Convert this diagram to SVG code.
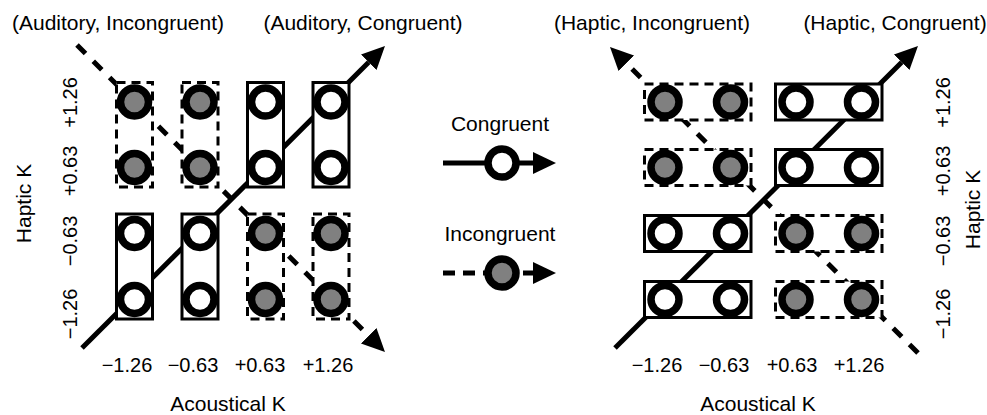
<svg xmlns="http://www.w3.org/2000/svg" width="987" height="415" viewBox="0 0 987 415">
<style>
text{font-family:"Liberation Sans",Arial,sans-serif;fill:#000}
.lbl{font-size:21px}
.tick{font-size:20px}
.ln{fill:none;stroke:#000;stroke-width:5}
.dash{stroke-dasharray:12 11}
.rs{fill:#fff;stroke:#000;stroke-width:3}
.rd{fill:#fff;stroke:#000;stroke-width:3;stroke-dasharray:9 6}
.cw{fill:#fff;stroke:#000;stroke-width:7.5}
.cg{fill:#808080;stroke:#000;stroke-width:7.5}
</style>
<defs>
<marker id="ah" markerUnits="userSpaceOnUse" markerWidth="24" markerHeight="24" refX="0" refY="11" orient="auto" viewBox="0 0 24 22">
<path d="M0,0 L23,11 L0,22 Z" fill="#000"/>
</marker>
</defs>
<rect width="987" height="415" fill="#fff"/>

<g id="connectors">
<line class="ln" x1="82" y1="348" x2="368.7" y2="62.3" marker-end="url(#ah)"/>
<line class="ln dash" x1="77" y1="45" x2="368.7" y2="335.8" marker-end="url(#ah)"/>
<line class="ln" x1="615" y1="348" x2="901.7" y2="62.2" marker-end="url(#ah)"/>
<line class="ln dash" x1="918" y1="353" x2="626.3" y2="63.2" marker-end="url(#ah)"/>
</g>

<g id="left-panel">
<g id="L-top-1"><rect class="rd" x="116.5" y="82.5" width="36" height="104.5"/><circle class="cg" cx="134.5" cy="102" r="14"/><circle class="cg" cx="134.5" cy="167.5" r="14"/></g>
<g id="L-top-2"><rect class="rd" x="182" y="82.5" width="36" height="104.5"/><circle class="cg" cx="200" cy="102" r="14"/><circle class="cg" cx="200" cy="167.5" r="14"/></g>
<g id="L-top-3"><rect class="rs" x="247.5" y="82.5" width="36" height="104.5"/><circle class="cw" cx="265.5" cy="102" r="14"/><circle class="cw" cx="265.5" cy="167.5" r="14"/></g>
<g id="L-top-4"><rect class="rs" x="313" y="82.5" width="36" height="104.5"/><circle class="cw" cx="331" cy="102" r="14"/><circle class="cw" cx="331" cy="167.5" r="14"/></g>
<g id="L-bot-1"><rect class="rs" x="116.5" y="214" width="36" height="105"/><circle class="cw" cx="134.5" cy="233.5" r="14"/><circle class="cw" cx="134.5" cy="299.5" r="14"/></g>
<g id="L-bot-2"><rect class="rs" x="182" y="214" width="36" height="105"/><circle class="cw" cx="200" cy="233.5" r="14"/><circle class="cw" cx="200" cy="299.5" r="14"/></g>
<g id="L-bot-3"><rect class="rd" x="247.5" y="214" width="36" height="105"/><circle class="cg" cx="265.5" cy="233.5" r="14"/><circle class="cg" cx="265.5" cy="299.5" r="14"/></g>
<g id="L-bot-4"><rect class="rd" x="313" y="214" width="36" height="105"/><circle class="cg" cx="331" cy="233.5" r="14"/><circle class="cg" cx="331" cy="299.5" r="14"/></g>
</g>

<g id="right-panel">
<g id="R-row-1a"><rect class="rd" x="644.5" y="84" width="106.5" height="36"/><circle class="cg" cx="665" cy="102" r="14"/><circle class="cg" cx="730.5" cy="102" r="14"/></g>
<g id="R-row-1b"><rect class="rs" x="775.5" y="84" width="106.5" height="36"/><circle class="cw" cx="796" cy="102" r="14"/><circle class="cw" cx="861.5" cy="102" r="14"/></g>
<g id="R-row-2a"><rect class="rd" x="644.5" y="149.5" width="106.5" height="36"/><circle class="cg" cx="665" cy="167.5" r="14"/><circle class="cg" cx="730.5" cy="167.5" r="14"/></g>
<g id="R-row-2b"><rect class="rs" x="775.5" y="149.5" width="106.5" height="36"/><circle class="cw" cx="796" cy="167.5" r="14"/><circle class="cw" cx="861.5" cy="167.5" r="14"/></g>
<g id="R-row-3a"><rect class="rs" x="644.5" y="215.5" width="106.5" height="36"/><circle class="cw" cx="665" cy="233.5" r="14"/><circle class="cw" cx="730.5" cy="233.5" r="14"/></g>
<g id="R-row-3b"><rect class="rd" x="775.5" y="215.5" width="106.5" height="36"/><circle class="cg" cx="796" cy="233.5" r="14"/><circle class="cg" cx="861.5" cy="233.5" r="14"/></g>
<g id="R-row-4a"><rect class="rs" x="644.5" y="281.5" width="106.5" height="36"/><circle class="cw" cx="665" cy="299.5" r="14"/><circle class="cw" cx="730.5" cy="299.5" r="14"/></g>
<g id="R-row-4b"><rect class="rd" x="775.5" y="281.5" width="106.5" height="36"/><circle class="cg" cx="796" cy="299.5" r="14"/><circle class="cg" cx="861.5" cy="299.5" r="14"/></g>
</g>

<g id="legend">
<line class="ln" x1="443" y1="163" x2="534" y2="163"/>
<circle class="cw" cx="502" cy="163" r="14"/>
<path d="M533,152 L556,163 L533,174 Z" fill="#000"/>
<line class="ln" x1="443" y1="273" x2="534" y2="273" stroke-dasharray="12 8"/>
<circle class="cg" cx="502" cy="273" r="14"/>
<path d="M533,262 L556,273 L533,284 Z" fill="#000"/>
<text class="lbl" x="500" y="131" text-anchor="middle">Congruent</text>
<text class="lbl" x="500" y="241" text-anchor="middle">Incongruent</text>
</g>

<g id="labels">
<text class="lbl" x="118" y="30" text-anchor="middle">(Auditory, Incongruent)</text>
<text class="lbl" x="363" y="30" text-anchor="middle">(Auditory, Congruent)</text>
<text class="lbl" x="652" y="30" text-anchor="middle">(Haptic, Incongruent)</text>
<text class="lbl" x="895" y="30" text-anchor="middle">(Haptic, Congruent)</text>

<text class="tick" x="127" y="372" text-anchor="middle">−1.26</text>
<text class="tick" x="193" y="372" text-anchor="middle">−0.63</text>
<text class="tick" x="260" y="372" text-anchor="middle">+0.63</text>
<text class="tick" x="328" y="372" text-anchor="middle">+1.26</text>
<text class="tick" x="657" y="372" text-anchor="middle">−1.26</text>
<text class="tick" x="724" y="372" text-anchor="middle">−0.63</text>
<text class="tick" x="792" y="372" text-anchor="middle">+0.63</text>
<text class="tick" x="859" y="372" text-anchor="middle">+1.26</text>

<text class="lbl" x="228" y="411" text-anchor="middle">Acoustical K</text>
<text class="lbl" x="758" y="411" text-anchor="middle">Acoustical K</text>

<text class="tick" transform="translate(77,102.5) rotate(-90)" text-anchor="middle">+1.26</text>
<text class="tick" transform="translate(77,171) rotate(-90)" text-anchor="middle">+0.63</text>
<text class="tick" transform="translate(77,241) rotate(-90)" text-anchor="middle">−0.63</text>
<text class="tick" transform="translate(77,314) rotate(-90)" text-anchor="middle">−1.26</text>
<text class="tick" transform="translate(950,102.5) rotate(-90)" text-anchor="middle">+1.26</text>
<text class="tick" transform="translate(950,171) rotate(-90)" text-anchor="middle">+0.63</text>
<text class="tick" transform="translate(950,241) rotate(-90)" text-anchor="middle">−0.63</text>
<text class="tick" transform="translate(950,314) rotate(-90)" text-anchor="middle">−1.26</text>

<text class="lbl" transform="translate(31,203.5) rotate(-90)" text-anchor="middle">Haptic K</text>
<text class="lbl" transform="translate(980,209.5) rotate(-90)" text-anchor="middle">Haptic K</text>
</g>
</svg>
